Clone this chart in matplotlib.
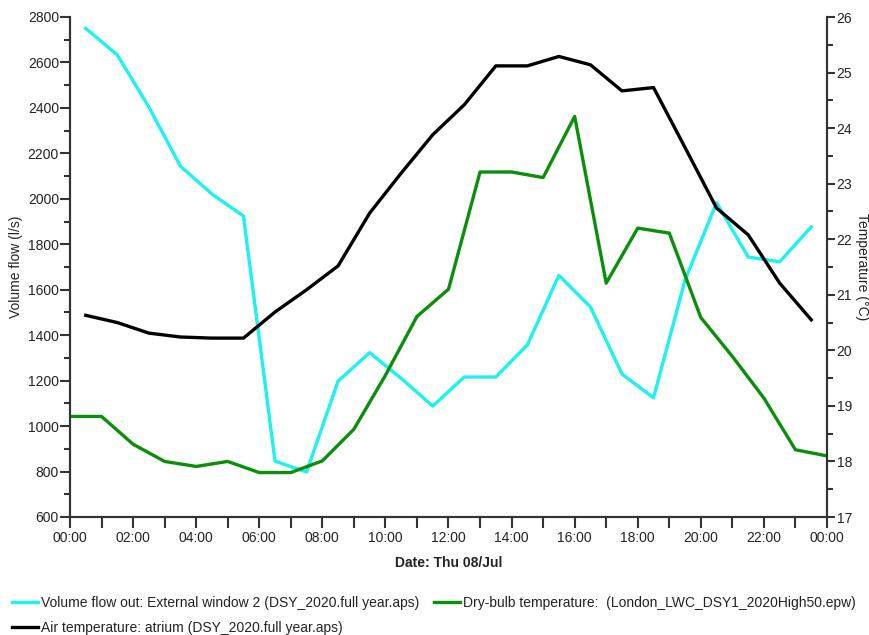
import matplotlib
matplotlib.use("Agg")
import matplotlib.pyplot as plt
from matplotlib.ticker import MultipleLocator, FixedLocator, FixedFormatter

plt.rcParams['font.family'] = ['Liberation Sans', 'DejaVu Sans']

# Hourly simulation results for Thu 08/Jul
flow_hours = [h + 0.5 for h in range(24)]
volume_flow = [2750, 2633, 2404, 2144, 2021, 1924, 846, 798, 1198, 1323, 1210, 1088,
               1216, 1216, 1357, 1663, 1524, 1229, 1124, 1643, 1983, 1744, 1723, 1876]

air_hours = [h + 0.5 for h in range(24)]
air_temp = [20.63, 20.50, 20.31, 20.24, 20.22, 20.22, 20.69, 21.09, 21.52, 22.47, 23.19, 23.88,
            24.42, 25.12, 25.12, 25.29, 25.14, 24.67, 24.73, 23.65, 22.56, 22.08, 21.21, 20.55]

dry_hours = list(range(25))
dry_bulb = [18.81, 18.81, 18.31, 18.00, 17.91, 18.00, 17.80, 17.80, 18.01, 18.58, 19.55, 20.61,
            21.10, 23.21, 23.21, 23.11, 24.21, 21.21, 22.20, 22.11, 20.59, 19.89, 19.14, 18.21, 18.10]

tick_hours = list(range(0, 25, 2))
tick_labels = ["00:00", "02:00", "04:00", "06:00", "08:00", "10:00", "12:00",
               "14:00", "16:00", "18:00", "20:00", "22:00", "00:00"]

labels = {
    "flow": "Volume flow out: External window 2 (DSY_2020.full year.aps)",
    "dry": "Dry-bulb temperature:  (London_LWC_DSY1_2020High50.epw)",
    "air": "Air temperature: atrium (DSY_2020.full year.aps)",
}

CYAN = "#1cf2f2"
GREEN = "#0a8f0a"
BLACK = "#000000"
AXIS = "#333333"
TEXT = "#222222"

fig = plt.figure(figsize=(8.7, 6.35), dpi=100)
ax = fig.add_axes([70 / 870, 1 - 517 / 635, 757 / 870, 500 / 635])
ax2 = ax.twinx()

l_flow, = ax.plot(flow_hours, volume_flow, color=CYAN, lw=2.4, label=labels["flow"])
l_air, = ax2.plot(air_hours, air_temp, color=BLACK, lw=2.4, label=labels["air"])
l_dry, = ax2.plot(dry_hours, dry_bulb, color=GREEN, lw=2.4, label=labels["dry"])

ax.set_xlim(0, 24)
ax.set_ylim(600, 2800)
ax2.set_ylim(17, 26)

ax.xaxis.set_major_locator(FixedLocator(tick_hours))
ax.xaxis.set_major_formatter(FixedFormatter(tick_labels))
ax.xaxis.set_minor_locator(MultipleLocator(1))
ax.yaxis.set_major_locator(MultipleLocator(200))
ax.yaxis.set_minor_locator(MultipleLocator(100))
ax2.yaxis.set_major_locator(MultipleLocator(1))
ax2.yaxis.set_minor_locator(MultipleLocator(0.5))

for a in (ax, ax2):
    a.spines['top'].set_visible(False)
    for s in a.spines.values():
        s.set_color(AXIS)
        s.set_linewidth(1.5)

ax.tick_params(axis='x', which='both', direction='out', length=8, width=1.5, color=AXIS,
               labelsize=10, labelcolor=TEXT, pad=2)
ax.tick_params(axis='y', which='major', direction='out', length=7, width=1.5, color=AXIS,
               labelsize=10, labelcolor=TEXT, pad=1)
ax.tick_params(axis='y', which='minor', direction='out', length=4, width=1.5, color=AXIS)
ax2.tick_params(axis='y', which='major', direction='out', length=6, width=1.5, color=AXIS,
                labelsize=10, labelcolor=TEXT, pad=1)
ax2.tick_params(axis='y', which='minor', direction='out', length=4, width=1.5, color=AXIS)

ax.set_xlabel("Date: Thu 08/Jul", fontsize=10, fontweight='bold', color=TEXT, labelpad=8)
ax.set_ylabel("Volume flow (l/s)", fontsize=10, color=TEXT, va='center', ha='center')
ax.yaxis.set_label_coords(-0.0713, 0.5)
ax2.set_ylabel("Temperature (°C)", fontsize=10, color=TEXT, rotation=-90,
               va='center', ha='center')
ax2.yaxis.set_label_coords(1.046, 0.5)

fig.legend(handles=[l_flow, l_air, l_dry], loc='upper left',
           bbox_to_anchor=(6 / 870, 1 - 590 / 635), ncol=2, frameon=False, fontsize=10,
           handlelength=1.9, handletextpad=0.25, columnspacing=1.0, labelspacing=0.8,
           borderaxespad=0.0, labelcolor=TEXT)

fig.savefig("out.png", dpi=100)
